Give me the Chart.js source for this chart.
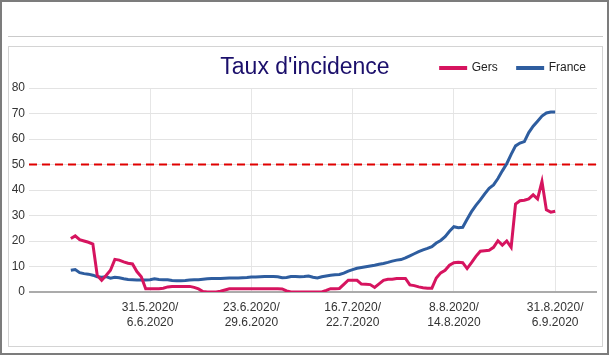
<!DOCTYPE html>
<html>
<head>
<meta charset="utf-8">
<script src="https://cdn.jsdelivr.net/npm/chart.js@4"></script>
<style>
  html, body { margin:0; padding:0; background:#fff; width:610px; height:356px; overflow:hidden; }
  #outer { position:absolute; left:0; top:0; width:609px; height:355px; box-sizing:border-box; border:2px solid #7c7c7c; }
  #rule { position:absolute; left:8px; top:36px; width:595px; height:1px; background:#cacaca; }
  #inner { position:absolute; left:8px; top:46px; width:595px; height:301px; box-sizing:border-box; border:1px solid #d4d4d4; }
  #title { position:absolute; left:0; top:55px; width:610px; text-align:center; font-family:'Liberation Sans', Arial, sans-serif; font-size:23px; line-height:23px; color:#1b0f6b; }
  #wrap { position:absolute; left:9px; top:42px; width:597px; height:303px; }
</style>
</head>
<body>
<div id="outer"></div>
<div id="rule"></div>
<div id="inner"></div>
<div id="wrap"><canvas id="c" width="597" height="303"></canvas></div>
<div id="title">Taux d'incidence</div>
<script>
const titleText = "Taux d'incidence";
const seriesNames = ["Gers", "France"];
// one value per 7-day sliding window, first window 13.5.2020/19.5.2020, last 31.8.2020/6.9.2020
const gers = [
  21, 22, 20.5, 20, 19.5, 18.8, 6.5, 4.6, 6.5, 8.5,
  12.8, 12.5, 11.8, 11.3, 11, 8, 6, 1.3, 1.3, 1.3,
  1.3, 1.5, 2.0, 2.2, 2.2, 2.2, 2.2, 2.2, 1.8, 1.2,
  0.2, 0, 0, 0, 0.3, 0.8, 1.3, 1.3, 1.3, 1.3,
  1.3, 1.3, 1.3, 1.3, 1.3, 1.3, 1.3, 1.3, 1.2, 0.4,
  0, 0, 0, 0, 0, 0, 0, 0, 0.6, 1.3,
  1.3, 1.4, 3.0, 4.6, 4.6, 4.6, 3.1, 3.0, 2.9, 1.8,
  3.2, 4.6, 5.0, 5.0, 5.3, 5.3, 5.3, 2.8, 2.5, 2.0,
  1.7, 1.5, 1.5, 5.5, 7.5, 8.5, 10.5, 11.5, 11.7, 11.5,
  9.2, 11.5, 14, 16, 16.2, 16.4, 17.5, 20.1, 18.4, 20,
  17.5, 34.5, 35.8, 36, 36.5, 38.1, 36.5, 43.3, 32.2, 31.3, 31.7
];
const france = [
  8.5, 8.8, 7.6, 7.2, 7.0, 6.6, 6.0, 5.8, 6.0, 5.4,
  5.8, 5.6, 5.2, 4.9, 4.8, 4.7, 4.7, 4.7, 4.8, 5.2,
  4.9, 4.8, 4.8, 4.5, 4.4, 4.4, 4.5, 4.7, 4.8, 4.8,
  5.0, 5.2, 5.3, 5.3, 5.3, 5.4, 5.5, 5.5, 5.5, 5.6,
  5.7, 5.9, 5.9, 6.0, 6.1, 6.1, 6.1, 6.0, 5.6, 5.7,
  6.1, 6.1, 6.0, 6.1, 6.3, 5.8, 5.5, 6.0, 6.3, 6.6,
  6.8, 6.9, 7.4, 8.2, 8.8, 9.3, 9.6, 9.9, 10.2, 10.5,
  10.9, 11.2, 11.6, 12.1, 12.5, 12.7, 13.4, 14.2, 15.0, 15.8,
  16.5, 17.1, 17.8, 19.2, 20.2, 21.7, 23.8, 25.6, 25.2, 25.4,
  28.5, 31.5, 34, 36.1, 38.5, 40.7, 42, 44.5, 47.5, 50.3,
  54, 57.3, 58.4, 59, 62.5, 65, 67, 69, 70.2, 70.6, 70.6
];
const tickDays = [18, 41, 64, 87, 110];
const tickLabels = [
  ["31.5.2020/", "6.6.2020"],
  ["23.6.2020/", "29.6.2020"],
  ["16.7.2020/", "22.7.2020"],
  ["8.8.2020/", "14.8.2020"],
  ["31.8.2020/", "6.9.2020"]
];
const threshold = 50;
const yTicks = { min: 0, max: 80, step: 10 };

const FONT = "'Liberation Sans', Arial, sans-serif";
const toPoints = arr => arr.map((v, i) => ({ x: i, y: v }));

const thresholdPlugin = {
  id: 'threshold',
  beforeDatasetsDraw(chart) {
    const { ctx, chartArea, scales } = chart;
    const y = scales.y.getPixelForValue(threshold);
    ctx.save();
    ctx.strokeStyle = '#e00000';
    ctx.lineWidth = 2;
    ctx.setLineDash([8, 5]);
    ctx.beginPath();
    ctx.moveTo(chartArea.left, y);
    ctx.lineTo(chartArea.right, y);
    ctx.stroke();
    ctx.restore();
  }
};

new Chart(document.getElementById('c'), {
  type: 'line',
  data: {
    datasets: [
      { label: seriesNames[0], data: toPoints(gers), borderColor: '#d6145f', backgroundColor: '#d6145f', borderWidth: 3, pointRadius: 0, tension: 0 },
      { label: seriesNames[1], data: toPoints(france), borderColor: '#2e5d9f', backgroundColor: '#2e5d9f', borderWidth: 3, pointRadius: 0, tension: 0 }
    ]
  },
  options: {
    responsive: false,
    animation: false,
    events: [],
    layout: { padding: 0 },
    plugins: {
      title: { display: false, text: titleText },
      tooltip: { enabled: false },
      legend: {
        position: 'top',
        align: 'end',
        labels: {
          boxWidth: 25,
          boxHeight: 1,
          padding: 20,
          color: '#222',
          font: { family: FONT, size: 12 }
        }
      }
    },
    scales: {
      x: {
        type: 'linear',
        min: -9.5,
        max: 119.5,
        afterBuildTicks: s => { s.ticks = tickDays.map(v => ({ value: v })); },
        afterFit: s => { s.height = 53; },
        border: { display: false },
        grid: { color: '#e6e6e6', lineWidth: 1, drawTicks: false },
        ticks: {
          autoSkip: false,
          maxRotation: 0,
          padding: 8,
          color: '#333',
          font: { family: FONT, size: 12, lineHeight: 1.25 },
          callback: v => { const i = tickDays.indexOf(v); return i >= 0 ? tickLabels[i] : ''; }
        }
      },
      x2: {
        type: 'linear',
        position: 'top',
        display: true,
        afterFit: s => { s.height = 4; },
        border: { display: false },
        grid: { display: false, drawTicks: false },
        ticks: { display: false }
      },
      y: {
        min: yTicks.min,
        max: yTicks.max,
        afterFit: s => { s.width = 20; },
        border: { display: false },
        grid: {
          drawTicks: false,
          color: c => c.tick && c.tick.value === 0 ? '#ababab' : '#e3e3e3',
          lineWidth: c => c.tick && c.tick.value === 0 ? 2 : 1
        },
        ticks: { stepSize: yTicks.step, padding: 4, color: '#333', font: { family: FONT, size: 12 } }
      },
      y2: {
        position: 'right',
        display: true,
        afterFit: s => { s.width = 9; },
        border: { display: false },
        grid: { display: false, drawTicks: false },
        ticks: { display: false }
      }
    }
  },
  plugins: [thresholdPlugin]
});
</script>
</body>
</html>
